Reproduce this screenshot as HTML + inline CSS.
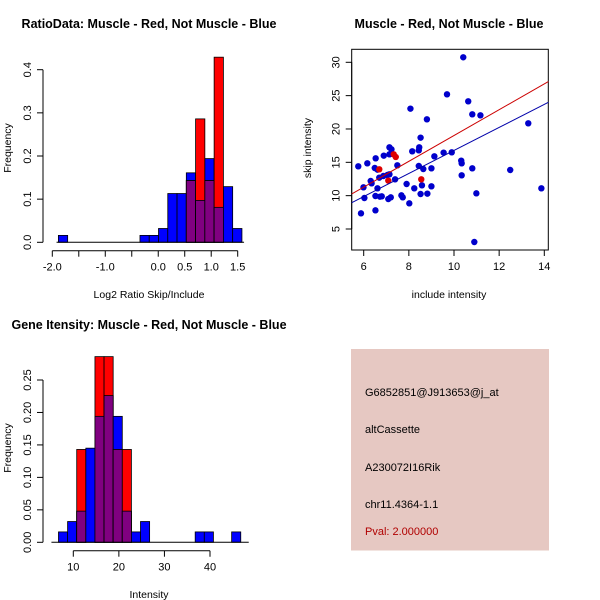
<!DOCTYPE html>
<html><head><meta charset="utf-8"><style>
html,body{margin:0;padding:0;background:#fff;}
svg{display:block;font-family:"Liberation Sans",sans-serif;}
</style></head><body>
<svg id="c" width="600" height="600" viewBox="0 0 600 600" xmlns="http://www.w3.org/2000/svg">
<rect width="600" height="600" fill="#fff"/>
<g id="p1"></g>
<g id="p2"></g>
<g id="p3"></g>
<g>
<rect x="351" y="349" width="198" height="201.5" fill="#e6c8c2"/>
<text x="365" y="396" font-size="11">G6852851@J913653@j_at</text>
<text x="365" y="433" font-size="11">altCassette</text>
<text x="365" y="471" font-size="11">A230072I16Rik</text>
<text x="365" y="508" font-size="11">chr11.4364-1.1</text>
<text x="365" y="535" font-size="11" fill="#b00000">Pval: 2.000000</text>
</g>
</svg>
<script>
// ---- Panel 1 data: log2 ratio histogram ----
const ratioEdges = [-1.885, -0.345, -0.17, 0.005, 0.18, 0.355, 0.53, 0.705, 0.88, 1.055, 1.23, 1.405];
const ratioBinWidth = 0.175;
const ratioBlue = [0.016, 0.016, 0.016, 0.032, 0.113, 0.113, 0.161, 0.097, 0.194, 0.081, 0.129, 0.032];
const ratioRed  = [0, 0, 0, 0, 0, 0, 0.143, 0.286, 0.143, 0.429, 0, 0];
const ratioXTicks = [-2.0, -1.5, -1.0, -0.5, 0.0, 0.5, 1.0, 1.5];
const ratioXLabels = ["-2.0", "", "-1.0", "", "0.0", "0.5", "1.0", "1.5"];
const ratioYTicks = [0.0, 0.1, 0.2, 0.3, 0.4];
const ratioYLabels = ["0.0", "0.1", "0.2", "0.3", "0.4"];

// ---- Panel 2 data: scatter ----
const incBlue = [5.76,5.99,6.03,5.88,6.16,6.31,6.35,6.49,6.53,6.52,6.52,6.61,6.61,6.69,6.72,6.80,6.89,6.87,7.05,7.09,7.14,7.14,7.14,7.20,7.23,7.39,7.49,7.67,7.73,7.90,8.02,8.07,8.15,8.24,8.44,8.44,8.46,8.52,8.52,8.58,8.64,8.82,8.80,9.00,9.00,9.13,9.54,9.69,9.90,10.32,10.34,10.34,10.41,10.63,10.81,10.81,10.99,11.17,10.90,12.49,13.29,13.87];
const skipBlue = [14.4,11.25,9.65,7.35,14.85,12.2,11.85,14.15,15.6,9.95,7.8,13.9,11.1,12.7,9.85,9.9,16.0,12.95,13.1,9.5,17.25,16.2,13.2,9.75,16.95,12.45,14.55,10.05,9.75,11.75,8.85,23.05,16.65,11.1,14.45,16.8,17.25,18.7,10.25,11.55,14.0,10.3,21.45,14.1,11.4,15.9,16.45,25.2,16.5,15.25,14.85,13.05,30.75,24.15,14.1,22.2,10.35,22.05,3.05,13.85,20.85,11.1];
const incRed = [6.69, 7.09, 7.33, 7.42, 8.55];
const skipRed = [13.95, 12.25, 16.2, 15.8, 12.45];
const fitRed = [-0.33, 1.935];   // intercept, slope
const fitBlue = [-0.50, 1.728];
const scatXTicks = [6, 8, 10, 12, 14];
const scatYTicks = [5, 10, 15, 20, 25, 30];

// ---- Panel 3 data: intensity histogram ----
const intEdges = [6.75,8.75,10.75,12.75,14.75,16.75,18.75,20.75,22.75,24.75,36.75,38.75,44.75];
const intBinWidth = 2;
const intBlue = [0.016,0.032,0.048,0.145,0.194,0.226,0.194,0.048,0.016,0.032,0.016,0.016,0.016];
const intRed  = [0,0,0.143,0,0.286,0.286,0.143,0.143,0,0,0,0,0];
const intXTicks = [10, 20, 30, 40];
const intYTicks = [0.00, 0.05, 0.10, 0.15, 0.20, 0.25];
const intYLabels = ["0.00", "0.05", "0.10", "0.15", "0.20", "0.25"];

const NS = "http://www.w3.org/2000/svg";
function mk(parent, tag, attrs, text) {
  const e = document.createElementNS(NS, tag);
  for (const k in attrs) e.setAttribute(k, attrs[k]);
  if (text !== undefined) e.textContent = text;
  parent.appendChild(e);
  return e;
}
function lin(d0, d1, r0, r1) { return v => r0 + (v - d0) * (r1 - r0) / (d1 - d0); }

function xAxis(g, sx, ticks, labels, y) {
  const ax = mk(g, "g", {});
  
  
  mk(ax, "line", {x1: sx(ticks[0]), x2: sx(ticks[ticks.length-1]), y1: y, y2: y, stroke: "#000"});
  ticks.forEach((t, i) => {
    mk(ax, "line", {x1: sx(t), x2: sx(t), y1: y, y2: y + 6, stroke: "#000"});
    const lb = labels ? labels[i] : String(t);
    if (lb) {
      const tx = mk(ax, "text", {x: sx(t), y: y + 20, "font-size": 11, "text-anchor": "middle"}, lb);
      
      
    }
  });
}
function yAxis(g, sy, ticks, labels, x) {
  const ax = mk(g, "g", {});
  
  
  mk(ax, "line", {x1: x, x2: x, y1: sy(ticks[0]), y2: sy(ticks[ticks.length-1]), stroke: "#000"});
  ticks.forEach((t, i) => {
    mk(ax, "line", {x1: x - 6, x2: x, y1: sy(t), y2: sy(t), stroke: "#000"});
    const lb = labels ? labels[i] : String(t);
    const tx = mk(ax, "text", {x: x - 12, y: sy(t), "font-size": 11, "text-anchor": "middle", transform: `rotate(-90 ${x-12} ${sy(t)})`}, lb);
    
    
  });
}
function title(g, txt, x, y) {
  const t = mk(g, "text", {x: x, y: y, "font-size": 12.5, "font-weight": "bold", "text-anchor": "middle"}, txt);
  
  
}
function axisTitle(g, txt, x, y, rot, name) {
  const attrs = {x: x, y: y, "font-size": 10.5, "text-anchor": "middle"};
  if (rot) attrs.transform = `rotate(-90 ${x} ${y})`;
  const t = mk(g, "text", attrs, txt);
  
  
}
function hist(g, sx, sy, edges, w, blue, red) {
  edges.forEach((e, i) => {
    const x0 = sx(e), x1 = sx(e + w);
    const b = blue[i], r = red[i], m = Math.min(b, r);
    if (b > 0) {
      const el = mk(g, "rect", {x: x0, y: sy(b), width: x1 - x0, height: sy(0) - sy(b), fill: "#0000ff", stroke: "#000", "stroke-width": 0.8});
      
      
    }
    if (r > 0) {
      const el = mk(g, "rect", {x: x0, y: sy(r), width: x1 - x0, height: sy(0) - sy(r), fill: "#ff0000", stroke: "#000", "stroke-width": 0.8});
      
      
    }
    if (m > 0) {
      const el = mk(g, "rect", {x: x0, y: sy(m), width: x1 - x0, height: sy(0) - sy(m), fill: "#800080", stroke: "#000", "stroke-width": 0.8});
      
      
    }
  });
}

// Panel 1
(function(){
  const g = document.getElementById("p1");
  const sx = lin(-2, 1.5, 52.3, 237.7);
  const sy = lin(0, 0.4, 242.3, 69.7);
  hist(g, sx, sy, ratioEdges, ratioBinWidth, ratioBlue, ratioRed);
  mk(g, "line", {x1: sx(-1.92), x2: sx(1.62), y1: sy(0), y2: sy(0), stroke: "#000"});
  xAxis(g, sx, ratioXTicks, ratioXLabels, 250.7);
  yAxis(g, sy, ratioYTicks, ratioYLabels, 43);
  title(g, "RatioData: Muscle - Red, Not Muscle - Blue", 149, 28);
  axisTitle(g, "Log2 Ratio Skip/Include", 149, 298, false, "x-axis-title");
  axisTitle(g, "Frequency", 11, 148, true, "y-axis-title");
})();

// Panel 2
(function(){
  const g = document.getElementById("p2");
  const sx = lin(6, 14, 363.7, 544.3);
  const sy = lin(5, 30, 229, 62.3);
  const box = mk(g, "rect", {x: 351.7, y: 49.3, width: 196.6, height: 200.7, fill: "none", stroke: "#000"});
  
  
  xAxis(g, sx, scatXTicks, null, 250);
  yAxis(g, sy, scatYTicks, null, 351.7);
  incBlue.forEach((v, i) => {
    const c = mk(g, "circle", {cx: sx(v), cy: sy(skipBlue[i]), r: 3.2, fill: "#0000cc"});
    
    
  });
  incRed.forEach((v, i) => {
    const c = mk(g, "circle", {cx: sx(v), cy: sy(skipRed[i]), r: 3.2, fill: "#dd0000"});
    
    
  });
  const xa = 5.47, xb = 14.18;
  const lr = mk(g, "line", {x1: sx(xa), y1: sy(fitRed[0] + fitRed[1]*xa), x2: sx(xb), y2: sy(fitRed[0] + fitRed[1]*xb), stroke: "#cc0000"});
  
  
  const lb = mk(g, "line", {x1: sx(xa), y1: sy(fitBlue[0] + fitBlue[1]*xa), x2: sx(xb), y2: sy(fitBlue[0] + fitBlue[1]*xb), stroke: "#0000aa"});
  
  
  title(g, "Muscle - Red, Not Muscle - Blue", 449, 28);
  axisTitle(g, "include intensity", 449, 298, false, "x-axis-title");
  axisTitle(g, "skip intensity", 311, 148, true, "y-axis-title");
})();

// Panel 3
(function(){
  const g = document.getElementById("p3");
  const sx = lin(10, 40, 73.3, 210);
  const sy = lin(0, 0.25, 542.3, 380);
  hist(g, sx, sy, intEdges, intBinWidth, intBlue, intRed);
  mk(g, "line", {x1: sx(5.2), x2: sx(48.5), y1: sy(0), y2: sy(0), stroke: "#000"});
  xAxis(g, sx, intXTicks, null, 550.7);
  yAxis(g, sy, intYTicks, intYLabels, 43);
  title(g, "Gene Itensity: Muscle - Red, Not Muscle - Blue", 149, 329);
  axisTitle(g, "Intensity", 149, 598, false, "x-axis-title");
  axisTitle(g, "Frequency", 11, 448, true, "y-axis-title");
})();
</script>
</body></html>
